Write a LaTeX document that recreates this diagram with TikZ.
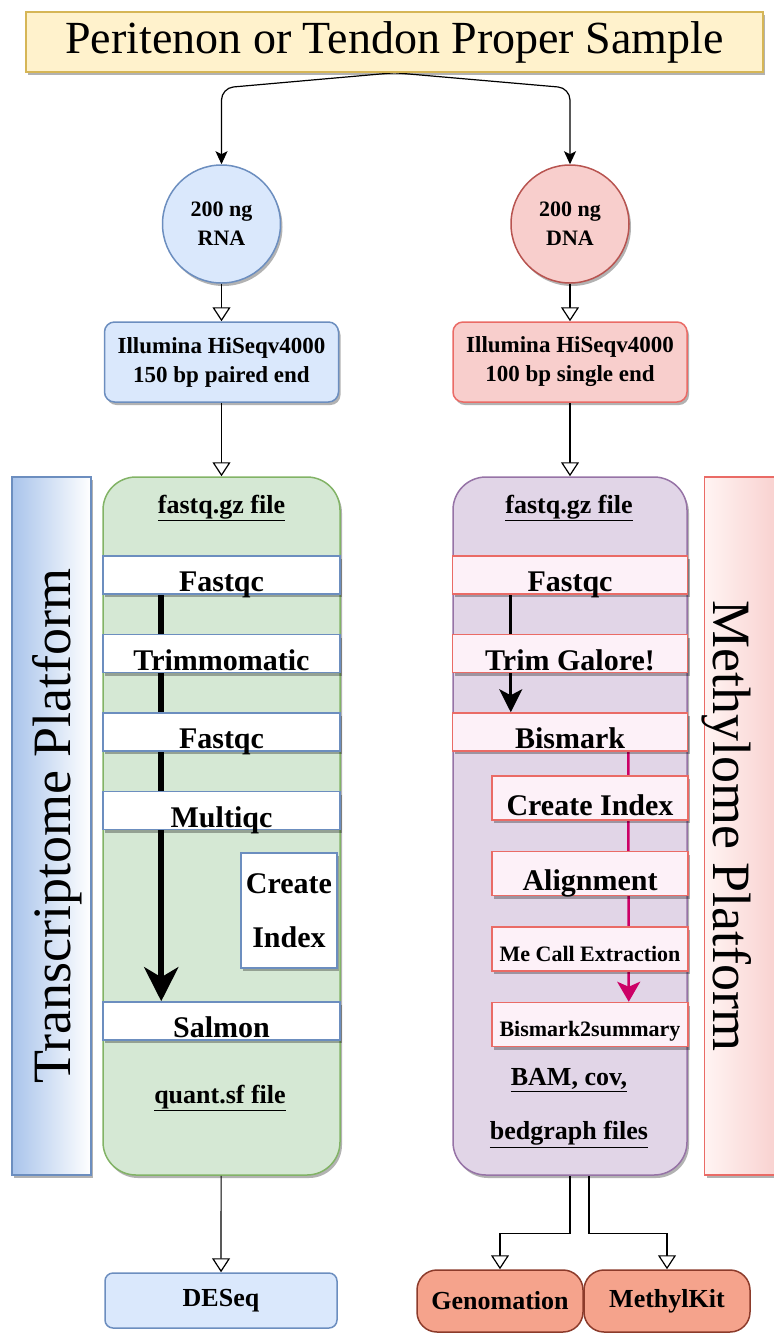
\documentclass[tikz,border=0pt]{standalone}
\usepackage{fontspec}
\setmainfont{Liberation Serif}
\usepackage{xcolor}
\usepackage{tikz}
\usetikzlibrary{arrows.meta,shadows,positioning,calc}
\definecolor{sampleFill}{HTML}{FFF2CC}
\definecolor{sampleDraw}{HTML}{D6B656}
\definecolor{rnaFill}{HTML}{DAE8FC}
\definecolor{rnaDraw}{HTML}{6C8EBF}
\definecolor{rnaShade}{HTML}{A9C4EB}
\definecolor{dnaFill}{HTML}{F8CECC}
\definecolor{dnaDraw}{HTML}{B85450}
\definecolor{dnaLight}{HTML}{FFF4F3}
\definecolor{pinkDraw}{HTML}{EA6B66}
\definecolor{pinkFill}{HTML}{FDF1F8}
\definecolor{greenFill}{HTML}{D5E8D4}
\definecolor{greenDraw}{HTML}{82B366}
\definecolor{purpleFill}{HTML}{E1D5E7}
\definecolor{purpleDraw}{HTML}{9673A6}
\definecolor{salmonFill}{HTML}{F5A38C}
\definecolor{salmonDraw}{HTML}{8C3B2B}
\definecolor{magenta}{HTML}{CC0066}
\pgfdeclarelayer{bg}
\pgfdeclarelayer{mid}
\pgfsetlayers{bg,mid,main}

\begin{document}
\begin{tikzpicture}[
  x=1pt, y=-1pt,
  node distance=39pt,
  shadowed/.style={drop shadow={shadow xshift=2pt, shadow yshift=-3pt, opacity=0.3, fill=black}},
  sample/.style={rectangle, draw=sampleDraw, fill=sampleFill, line width=1.5pt, minimum width=737pt, minimum height=60pt, font=\fontsize{46}{50}\selectfont, shadowed},
  amount/.style={circle, line width=1.5pt, minimum size=118pt, align=center, font=\fontsize{22}{29}\selectfont\bfseries, shadowed},
  seqbox/.style={rectangle, rounded corners=10pt, line width=1.5pt, minimum width=234pt, minimum height=80pt, align=center, font=\fontsize{23}{29}\selectfont\bfseries, shadowed},
  pipe/.style={rectangle, rounded corners=33pt, line width=1.5pt, minimum width=236pt, minimum height=698pt, shadowed},
  platform/.style={rectangle, line width=1.5pt, minimum width=698pt, minimum height=79pt, inner ysep=0pt, font=\fontsize{54}{60}\selectfont, text depth=0pt, shadowed},
  rnastep/.style={rectangle, draw=rnaDraw, fill=white, line width=1.5pt, minimum width=237pt, minimum height=38pt, inner ysep=0pt, font=\fontsize{30}{36}\selectfont\bfseries, text height=33pt, text depth=0pt, shadowed},
  rnaidx/.style={rectangle, draw=rnaDraw, fill=white, line width=1.5pt, minimum width=96pt, minimum height=115pt, align=center, font=\fontsize{30}{54}\selectfont\bfseries, shadowed},
  dnastep/.style={rnastep, draw=pinkDraw, fill=pinkFill, minimum width=235pt},
  dnasub/.style={dnastep, minimum width=196pt, minimum height=44pt, inner xsep=2pt, text height=34pt},
  dnasmall/.style={dnasub, font=\fontsize{22}{26}\selectfont\bfseries, text height=24pt},
  files/.style={font=\fontsize{26}{54}\selectfont\bfseries, align=center},
  tool/.style={rectangle, line width=1.5pt, font=\fontsize{26}{30}\selectfont\bfseries},
  fork/.style={-{Stealth[length=13pt,width=12pt,inset=3pt]}, line width=1.2pt, rounded corners=12pt},
  hollow/.style={-{Triangle[length=14pt,width=18pt,fill=white]}, line width=1.2pt},
  thickflow/.style={-{Stealth[length=34pt,width=34pt,inset=10pt]}, line width=6pt},
  dnaflow/.style={-{Stealth[length=23pt,width=23pt,inset=6pt]}, line width=3pt},
  methflow/.style={-{Stealth[length=20pt,width=23pt,inset=5pt]}, line width=2.5pt, magenta}
]
\useasboundingbox (0,0) rectangle (774,1334);

% Sample and nucleic acids
\node[sample] (sample) at (394.5,42) {Peritenon or Tendon Proper Sample};
\node[amount, fill=rnaFill, draw=rnaDraw] (rna) at (221.5,224) {200 ng\\RNA};
\node[amount, fill=dnaFill, draw=dnaDraw] (dna) at (570,224) {200 ng\\DNA};

% Sequencing
\node[seqbox, fill=rnaFill, draw=rnaDraw] (hiseqR) at (221.5,362) {Illumina HiSeqv4000\\150 bp paired end};
\node[seqbox, fill=dnaFill, draw=pinkDraw] (hiseqD) at (570,362) {Illumina HiSeqv4000\\100 bp single end};

% Pipeline containers
\begin{pgfonlayer}{bg}
\node[pipe, fill=greenFill, draw=greenDraw, minimum width=237pt] (rnapipe) at (221.5,826) {};
\node[pipe, fill=purpleFill, draw=purpleDraw, minimum width=234pt] (dnapipe) at (570,826) {};
\end{pgfonlayer}

% Platforms
\node[platform, rotate=90, left color=rnaShade, right color=white, draw=rnaDraw, text height=37pt] (transcr) at (51.5,826) {Transcriptome Platform};
\node[platform, rotate=-90, left color=dnaLight, right color=dnaFill, draw=pinkDraw, text height=62pt] (methyl) at (744,826) {Methylome Platform};

% Transcriptome steps
\node[files, anchor=base] (fastqR) at (221.5,513) {\underline{fastq.gz file}};
\node[rnastep] (fq1) at (221.5,575) {Fastqc};
\node[rnastep, below=of fq1] (trim) {Trimmomatic};
\node[rnastep, below=of trim] (fq2) {Fastqc};
\node[rnastep, below=of fq2] (multi) {Multiqc};
\node[rnaidx] (idxR) at (289,910.5) {Create\\Index};
\node[rnastep] (salmon) at (221.5,1021) {Salmon};
\node[files, anchor=base] (quant) at (220,1103) {\underline{quant.sf file}};

% Methylome steps
\node[files, anchor=base] (fastqD) at (569,513) {\underline{fastq.gz file}};
\node[dnastep] (fqD) at (570,575) {Fastqc};
\node[dnastep, below=of fqD] (galore) {Trim Galore!};
\node[dnastep, below=of galore] (bismark) {Bismark};
\node[dnasub] (idxD) at (590,798) {Create Index};
\node[dnasub, below=30pt of idxD] (align) {Alignment};
\node[dnasmall, below=30pt of align] (mecall) {Me Call Extraction};
\node[dnasmall, below=30pt of mecall] (b2s) {Bismark2summary};
\node[files] (bam) at (569,1108) {\underline{BAM, cov,}\\\underline{bedgraph files}};

% Downstream analysis
\node[tool, fill=rnaFill, draw=rnaDraw, rounded corners=8pt, minimum width=232pt, minimum height=55pt] (deseq) at (221,1300.5) {DESeq};
\node[tool, fill=salmonFill, draw=salmonDraw, rounded corners=20pt, minimum width=166pt, minimum height=62pt] (geno) at (500,1301) {Genomation};
\node[tool, fill=salmonFill, draw=salmonDraw, rounded corners=20pt, minimum width=166pt, minimum height=62pt] (methkit) at (667,1301) {MethylKit};

% Arrows
\begin{pgfonlayer}{mid}
\draw[fork] (sample.south) -- (rna.north |- 0,88) -- (rna.north);
\draw[fork] (sample.south) -- (dna.north |- 0,88) -- (dna.north);
\draw[hollow] (rna) -- (hiseqR);
\draw[hollow] (dna) -- (hiseqD);
\draw[hollow] (hiseqR) -- (rnapipe);
\draw[hollow] (hiseqD) -- (dnapipe);
\draw[thickflow] ([xshift=59pt]fq1.south west) -- ([xshift=59pt]salmon.north west);
\draw[dnaflow] ([xshift=59pt]fqD.south west) -- ([xshift=59pt]bismark.north west);
\draw[methflow] ([xshift=-60pt]bismark.south east) -- ([xshift=-60pt]b2s.north east);
\draw[hollow] (rnapipe) -- (deseq);
\draw[hollow] (dnapipe.south) -- ++(0,58) -| (geno.north);
\draw[hollow] ([xshift=19pt]dnapipe.south) -- ++(0,58) -| (methkit.north);
\end{pgfonlayer}

\end{tikzpicture}
\end{document}
